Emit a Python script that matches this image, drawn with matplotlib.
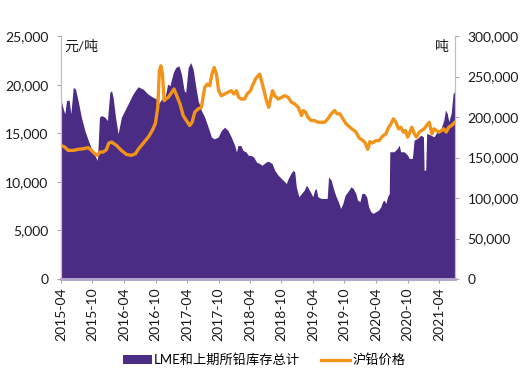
import pandas as pd
import matplotlib
matplotlib.use("Agg")
import matplotlib.pyplot as plt
import matplotlib.dates as mdates
from matplotlib.ticker import FuncFormatter, MultipleLocator

plt.rcParams['font.family'] = ['Lato', 'Noto Sans CJK SC', 'DejaVu Sans']

# LME + SHFE lead inventory (tonnes, right axis)
stock_dates = [
    '2015-04-01', '2015-04-15', '2015-04-24', '2015-05-04', '2015-05-19', '2015-05-29',
    '2015-06-12', '2015-06-25', '2015-07-10', '2015-07-29', '2015-08-18', '2015-09-07',
    '2015-09-26', '2015-10-15', '2015-10-30', '2015-11-11', '2015-11-23', '2015-12-12',
    '2015-12-27', '2016-01-10', '2016-01-20', '2016-01-29', '2016-02-12', '2016-02-27',
    '2016-03-17', '2016-04-15', '2016-05-04', '2016-05-23', '2016-06-21', '2016-07-20',
    '2016-08-18', '2016-09-17', '2016-10-06', '2016-10-17', '2016-11-06', '2016-11-25',
    '2016-12-10', '2016-12-23', '2017-01-12', '2017-01-26', '2017-02-14', '2017-02-28',
    '2017-03-16', '2017-03-25', '2017-04-08', '2017-04-23', '2017-05-07', '2017-05-20',
    '2017-06-05', '2017-06-24', '2017-07-13', '2017-08-02', '2017-08-21', '2017-09-06',
    '2017-09-29', '2017-10-17', '2017-11-06', '2017-11-25', '2017-12-14', '2018-01-03',
    '2018-01-13', '2018-01-22', '2018-02-07', '2018-02-20', '2018-03-10', '2018-03-23',
    '2018-04-08', '2018-04-23', '2018-05-09', '2018-05-28', '2018-06-11', '2018-06-26',
    '2018-07-11', '2018-07-25', '2018-08-08', '2018-08-23', '2018-09-12', '2018-10-01',
    '2018-10-20', '2018-10-29', '2018-11-09', '2018-11-24', '2018-12-08', '2018-12-17',
    '2018-12-26', '2019-01-10', '2019-01-25', '2019-02-10', '2019-02-23', '2019-03-07',
    '2019-03-22', '2019-04-01', '2019-04-11', '2019-04-20', '2019-04-30', '2019-05-19',
    '2019-06-08', '2019-06-23', '2019-07-01', '2019-07-16', '2019-08-01', '2019-08-14',
    '2019-08-27', '2019-09-09', '2019-09-22', '2019-10-05', '2019-10-20', '2019-11-08',
    '2019-11-21', '2019-12-06', '2019-12-16', '2019-12-30', '2020-01-10', '2020-01-24',
    '2020-02-07', '2020-02-18', '2020-03-02', '2020-03-15', '2020-03-31', '2020-04-16',
    '2020-04-29', '2020-05-09', '2020-05-18', '2020-05-28', '2020-06-07', '2020-06-17',
    '2020-06-20', '2020-07-14', '2020-08-03', '2020-08-13', '2020-08-22', '2020-09-11',
    '2020-10-01', '2020-10-10', '2020-10-29', '2020-11-08', '2020-11-27', '2020-12-16',
    '2021-01-01', '2021-01-05', '2021-01-14', '2021-01-20', '2021-02-13', '2021-03-03',
    '2021-03-21', '2021-04-10', '2021-04-29', '2021-05-09', '2021-05-19', '2021-05-28',
    '2021-06-11', '2021-06-22', '2021-07-02',
]
stock_tons = [
    222400, 210100, 204000, 220300, 221200, 204000,
    236700, 234700, 220300, 199900, 183500, 171200,
    161000, 152800, 146600, 199900, 201900, 199900,
    195800, 230600, 232600, 224400, 199900, 179400,
    199900, 212100, 220300, 228500, 237500, 234700,
    228500, 224400, 222400, 216300, 222400, 224400,
    240800, 238800, 255200, 261300, 263400, 253100,
    232600, 230600, 261300, 267400, 259200, 240800,
    220300, 208100, 199900, 187600, 175300, 173200,
    175300, 183500, 187600, 183500, 175300, 165000,
    156900, 165000, 165000, 158900, 156900, 152800,
    152800, 150700, 144600, 142500, 140500, 143300,
    145400, 144600, 142500, 134300, 128200, 124100,
    120000, 117900, 124100, 130200, 134300, 132300,
    113900, 101600, 105700, 109800, 115900, 111800,
    105700, 101600, 109800, 111800, 101600, 99500,
    99500, 99500, 126100, 122100, 109800, 101600,
    95400, 87200, 93400, 103600, 107700, 113900,
    111800, 105700, 97500, 95400, 105700, 105700,
    101600, 89300, 83100, 81100, 83100, 85200,
    89300, 95400, 97500, 93400, 101600, 105700,
    157200, 157200, 161300, 165500, 157200, 157200,
    153100, 149000, 149000, 171600, 173600, 177700,
    175700, 134500, 134500, 179900, 177700, 175700,
    181800, 184000, 196300, 208700, 204600, 194400,
    204600, 229200, 231600,
]

# SHFE lead price (yuan/tonne, left axis)
price_dates = [
    '2015-04-01', '2015-04-24', '2015-05-14', '2015-06-12', '2015-07-10', '2015-08-08',
    '2015-09-07', '2015-09-26', '2015-10-15', '2015-10-30', '2015-11-13', '2015-12-02',
    '2015-12-21', '2016-01-04', '2016-01-20', '2016-02-18', '2016-03-17', '2016-04-15',
    '2016-05-14', '2016-06-07', '2016-06-21', '2016-07-11', '2016-08-04', '2016-08-23',
    '2016-09-12', '2016-09-30', '2016-10-14', '2016-10-23', '2016-11-01', '2016-11-10',
    '2016-11-20', '2016-11-29', '2016-12-14', '2017-01-03', '2017-01-16', '2017-02-01',
    '2017-02-20', '2017-03-10', '2017-03-29', '2017-04-17', '2017-05-01', '2017-05-16',
    '2017-06-05', '2017-06-24', '2017-07-13', '2017-07-28', '2017-08-11', '2017-08-24',
    '2017-09-06', '2017-09-19', '2017-10-02', '2017-10-17', '2017-11-06', '2017-11-25',
    '2017-12-14', '2017-12-29', '2018-01-13', '2018-01-26', '2018-02-11', '2018-03-01',
    '2018-03-16', '2018-04-04', '2018-04-20', '2018-05-03', '2018-05-18', '2018-05-28',
    '2018-06-07', '2018-06-22', '2018-07-06', '2018-07-19', '2018-08-01', '2018-08-10',
    '2018-08-23', '2018-09-12', '2018-10-01', '2018-10-20', '2018-11-09', '2018-11-28',
    '2018-12-17', '2019-01-06', '2019-01-25', '2019-02-04', '2019-02-18', '2019-03-03',
    '2019-03-22', '2019-04-11', '2019-04-30', '2019-05-19', '2019-06-08', '2019-06-27',
    '2019-07-16', '2019-08-05', '2019-08-20', '2019-09-05', '2019-09-22', '2019-10-11',
    '2019-10-28', '2019-11-17', '2019-12-06', '2019-12-26', '2020-01-14', '2020-01-30',
    '2020-02-13', '2020-02-26', '2020-03-11', '2020-03-31', '2020-04-19', '2020-05-09',
    '2020-05-28', '2020-06-13', '2020-06-26', '2020-07-11', '2020-07-25', '2020-08-10',
    '2020-08-23', '2020-09-06', '2020-09-18', '2020-10-01', '2020-10-11', '2020-10-26',
    '2020-11-09', '2020-11-22', '2020-12-07', '2020-12-22', '2021-01-05', '2021-01-19',
    '2021-02-04', '2021-02-19', '2021-03-03', '2021-03-16', '2021-04-01', '2021-04-16',
    '2021-04-29', '2021-05-13', '2021-05-28', '2021-06-13', '2021-06-30',
]
price_yuan = [
    13750, 13580, 13240, 13240, 13350, 13410,
    13520, 13240, 12900, 12730, 13070, 13070,
    13310, 13990, 14100, 13750, 13240, 12830,
    12730, 12900, 13310, 13750, 14270, 14680,
    15290, 16000, 17680, 21430, 21950, 21090,
    18360, 18530, 18700, 19220, 19560, 18870,
    18020, 16830, 16310, 15800, 16140, 17170,
    17510, 17680, 19730, 20070, 19900, 21090,
    21780, 21090, 19390, 18870, 19050, 19220,
    19390, 19050, 19390, 18700, 18530, 18530,
    19050, 19390, 20070, 20580, 20920, 21090,
    20410, 19390, 18360, 17680, 18700, 19390,
    18870, 18530, 18700, 18870, 18700, 18190,
    18020, 17680, 16830, 17340, 17170, 16660,
    16310, 16310, 16140, 16140, 16140, 16490,
    17000, 17340, 17000, 17000, 16490, 15970,
    15700, 15400, 15150, 14500, 14300, 14000,
    13350, 14150, 14000, 14250, 14250, 14700,
    14950, 15600, 15950, 16500, 16150, 15460,
    15630, 15120, 15290, 14610, 14950, 15630,
    14950, 14610, 15120, 15290, 15460, 15800,
    16140, 14950, 15460, 15290, 15120, 15290,
    15460, 15120, 15630, 15800, 16100,
]

tick_dates = pd.date_range('2015-04-01', '2021-04-01', freq='6MS')

purple = '#4B2C84'
orange = '#F2931A'

stock = pd.Series(stock_tons, index=pd.to_datetime(stock_dates))
price = pd.Series(price_yuan, index=pd.to_datetime(price_dates))

fig = plt.figure(figsize=(5.2, 3.73), dpi=100)
ax = fig.add_axes([0.117, 0.252, 0.758, 0.651])
ax2 = ax.twinx()

area = ax2.fill_between(stock.index, stock.values, 0, color=purple, lw=0,
                        label='LME和上期所铅库存总计')
line, = ax.plot(price.index, price.values, color=orange, lw=2.4, label='沪铅价格')

# keep the price line above the inventory area
ax.set_zorder(ax2.get_zorder() + 1)
ax.patch.set_visible(False)

ax.set_xlim(pd.Timestamp('2015-04-01'), pd.Timestamp('2021-07-03'))
ax.set_ylim(0, 25000)
ax2.set_ylim(0, 300000)
ax.yaxis.set_major_locator(MultipleLocator(5000))
ax2.yaxis.set_major_locator(MultipleLocator(50000))
comma = FuncFormatter(lambda v, p: f'{int(v):,}')
ax.yaxis.set_major_formatter(comma)
ax2.yaxis.set_major_formatter(comma)

ax.set_xticks(tick_dates)
ax.xaxis.set_major_formatter(mdates.DateFormatter('%Y-%m'))
for lab in ax.get_xticklabels():
    lab.set_rotation(90)

for a in (ax, ax2):
    a.tick_params(labelsize=10, colors='#1a1a1a', length=3, width=0.8)
    a.tick_params(axis='both', color='#a6a6a6')
    a.spines['top'].set_visible(False)
    a.spines['left'].set_color('#bfbfbf')
    a.spines['right'].set_color('#bfbfbf')
    a.spines['bottom'].set_color('#b3a6cc')
    a.spines['bottom'].set_linewidth(2)
ax.tick_params(axis='y', pad=6)
ax2.tick_params(axis='y', pad=6)
ax.tick_params(axis='x', pad=3)

ax.text(0.01, 0.985, '元/吨', transform=ax.transAxes, ha='left', va='top',
        fontsize=10, color='#1a1a1a')
ax2.text(0.985, 0.985, '吨', transform=ax2.transAxes, ha='right', va='top',
         fontsize=10, color='#1a1a1a')

fig.legend([area, line], ['LME和上期所铅库存总计', '沪铅价格'],
           loc='center', bbox_to_anchor=(0.508, 0.035), ncol=2, frameon=False,
           fontsize=9.5, handlelength=2.2, handletextpad=0.15, columnspacing=1.6)

fig.savefig('out.png', dpi=100)
